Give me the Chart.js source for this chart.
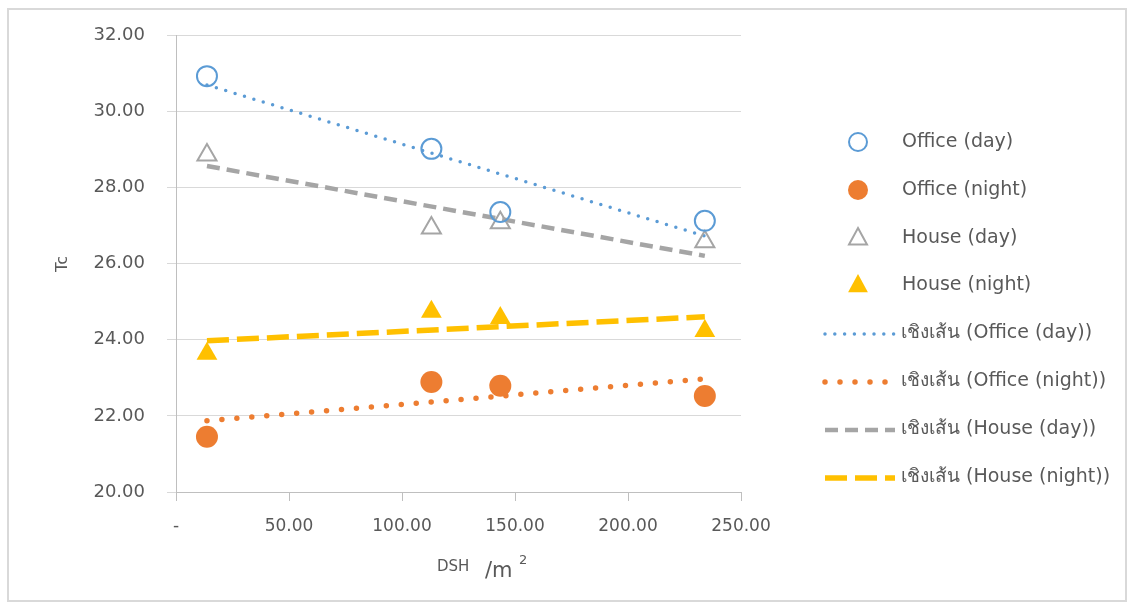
<!DOCTYPE html>
<html>
<head>
<meta charset="utf-8">
<script src="https://cdn.jsdelivr.net/npm/chart.js@4.4.1/dist/chart.umd.min.js"></script>
<style>
  body { margin: 0; background: #fff; }
  #frame { position: absolute; left: 7px; top: 8px; width: 1116px; height: 590px; border: 2px solid #d9d9d9; }
  #wrap { position: absolute; left: 0; top: 0; width: 1129px; height: 607px; }
</style>
</head>
<body>
<div id="frame"></div>
<div id="wrap"><canvas id="chart"></canvas></div>
<script>
// values
const dsh = [13.7, 113, 143.5, 234];
const officeDay = [30.92, 29.01, 27.35, 27.12];
const officeNight = [21.45, 22.89, 22.79, 22.52];
const houseDay = [28.85, 26.93, 27.07, 26.57];
const houseNight = [23.63, 24.73, 24.57, 24.23];

// linear trend lines (end points)
const trendX = [13.7, 234];
const officeDayTrend = [30.69, 26.72];
const officeNightTrend = [21.87, 22.97];
const houseDayTrend = [28.56, 26.20];
const houseNightTrend = [23.97, 24.60];

const labels = ['Office (day)', 'Office (night)', 'House (day)', 'House (night)',
  'เชิงเส้น (Office (day))', 'เชิงเส้น (Office (night))', 'เชิงเส้น (House (day))', 'เชิงเส้น (House (night))'];

const BLUE = '#5b9bd5', ORANGE = '#ed7d31', GRAY = '#a5a5a5', YELLOW = '#ffc000';
const FONT = '"DejaVu Sans", "Noto Sans", sans-serif';
const TEXT = '#595959';

const pts = (xs, ys) => xs.map((x, i) => ({ x: x, y: ys[i] }));

const trend = (label, ys, color, width, dash, cap) => ({
  type: 'line', label: label, data: pts(trendX, ys),
  borderColor: color, borderWidth: width, borderDash: dash, borderCapStyle: cap,
  pointRadius: 0, fill: false, order: 2
});

const datasets = [
  { label: labels[0], data: pts(dsh, officeDay), pointStyle: 'circle', pointRadius: 10,
    backgroundColor: 'rgba(0,0,0,0)', borderColor: BLUE, borderWidth: 2, order: 1 },
  { label: labels[1], data: pts(dsh, officeNight), pointStyle: 'circle', pointRadius: 11,
    backgroundColor: ORANGE, borderColor: ORANGE, borderWidth: 0, order: 1 },
  { label: labels[2], data: pts(dsh, houseDay), pointStyle: 'triangle', pointRadius: 11,
    backgroundColor: 'rgba(0,0,0,0)', borderColor: GRAY, borderWidth: 2, order: 1 },
  { label: labels[3], data: pts(dsh, houseNight), pointStyle: 'triangle', pointRadius: 12,
    backgroundColor: YELLOW, borderColor: YELLOW, borderWidth: 0, order: 1 },
  trend(labels[4], officeDayTrend, BLUE, 3.5, [0, 9.8], 'round'),
  trend(labels[5], officeNightTrend, ORANGE, 5.5, [0, 15], 'round'),
  trend(labels[6], houseDayTrend, GRAY, 4.5, [13, 7], 'butt'),
  trend(labels[7], houseNightTrend, YELLOW, 5.5, [22, 8], 'butt')
];

// legend + axis titles drawn by hand to sit where the reference has them
const extras = {
  id: 'extras',
  afterDraw(chart) {
    const ctx = chart.ctx;
    ctx.save();
    ctx.fillStyle = TEXT;
    ctx.textBaseline = 'middle';
    // y title
    ctx.save();
    ctx.translate(63, 264);
    ctx.rotate(-Math.PI / 2);
    ctx.textAlign = 'center';
    ctx.font = '16px ' + FONT;
    ctx.fillText('Tc', 0, 0);
    ctx.restore();
    // x title
    ctx.textAlign = 'left';
    ctx.font = '15px ' + FONT;
    ctx.fillText('DSH', 437, 567);
    ctx.font = '21px ' + FONT;
    ctx.fillText('/m', 485, 572);
    ctx.font = '13px ' + FONT;
    ctx.fillText('2', 519, 561);

    // legend
    const rowY = [142, 190, 238, 285, 333, 381, 429, 477];
    ctx.font = '19px ' + FONT;
    datasets.forEach((ds, i) => {
      const y = rowY[i];
      if (i < 4) {
        ctx.fillStyle = ds.backgroundColor;
        ctx.strokeStyle = ds.borderColor;
        ctx.lineWidth = ds.borderWidth;
        ctx.beginPath();
        if (ds.pointStyle === 'circle') {
          ctx.arc(858, y, ds.pointRadius - 1, 0, Math.PI * 2);
        } else {
          const r = ds.pointRadius - 1;
          ctx.moveTo(858, y - r);
          ctx.lineTo(858 + r * 0.9, y + r * 0.65);
          ctx.lineTo(858 - r * 0.9, y + r * 0.65);
          ctx.closePath();
        }
        ctx.fill();
        if (ds.borderWidth) ctx.stroke();
        ctx.fillStyle = TEXT;
        ctx.fillText(ds.label, 902, y);
      } else {
        ctx.save();
        ctx.strokeStyle = ds.borderColor;
        ctx.lineWidth = ds.borderWidth;
        ctx.lineCap = ds.borderCapStyle;
        ctx.setLineDash(ds.borderDash);
        ctx.beginPath();
        ctx.moveTo(825, y + 1);
        ctx.lineTo(895, y + 1);
        ctx.stroke();
        ctx.restore();
        ctx.fillStyle = TEXT;
        ctx.fillText(ds.label, 901, y);
      }
    });
    ctx.restore();
  }
};

new Chart(document.getElementById('chart'), {
  type: 'scatter',
  data: { datasets: datasets },
  options: {
    responsive: true,
    maintainAspectRatio: false,
    animation: false,
    layout: { padding: { left: 0, top: 35, right: 388, bottom: 0 } },
    plugins: { legend: { display: false }, tooltip: { enabled: false } },
    scales: {
      x: {
        type: 'linear', min: 0, max: 250,
        afterFit: s => { s.height = 115; },
        ticks: {
          stepSize: 50, padding: 15, color: TEXT,
          font: { family: FONT, size: 17 },
          callback: v => v === 0 ? '-' : v.toFixed(2)
        },
        grid: { drawOnChartArea: false, drawTicks: true, tickLength: 9, color: '#bfbfbf' },
        border: { display: true, color: '#bfbfbf', width: 1 }
      },
      y: {
        type: 'linear', min: 20, max: 32,
        afterFit: s => { s.width = 176; },
        ticks: {
          stepSize: 2, padding: 22, color: TEXT,
          font: { family: FONT, size: 18 },
          callback: v => v.toFixed(2)
        },
        grid: { drawOnChartArea: true, drawTicks: true, tickLength: 9, color: '#d9d9d9' },
        border: { display: true, color: '#bfbfbf', width: 1 }
      }
    }
  },
  plugins: [extras]
});
</script>
</body>
</html>
